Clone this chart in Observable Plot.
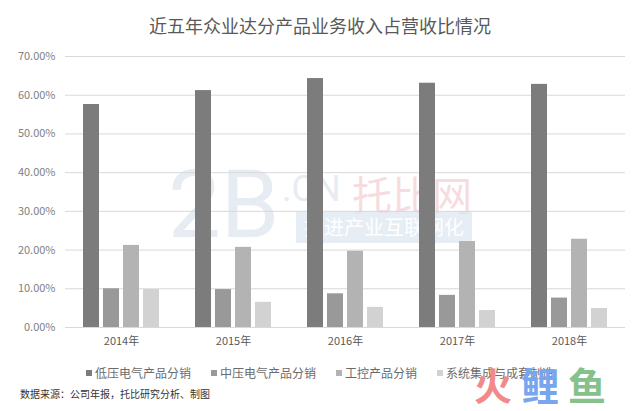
<!DOCTYPE html>
<html>
<head>
<meta charset="utf-8">
<script src="https://cdn.jsdelivr.net/npm/d3@7"></script>
<script src="https://cdn.jsdelivr.net/npm/@observablehq/plot@0.6"></script>
<style>
  html, body { margin:0; padding:0; background:#fff; }
  body { width:640px; height:411px; position:relative; overflow:hidden; font-family:"Noto Sans CJK SC","Noto Sans",sans-serif; }
  #title { position:absolute; left:0; top:0; width:640px; height:50px; line-height:50px; text-align:center; font-size:18px; color:#595959; }
  #chart { position:absolute; left:0; top:45px; }
  #legend { position:absolute; left:0; top:364px; width:640px; height:18px; display:flex; justify-content:center; gap:0; font-size:12px; color:#6b6b6b; line-height:18px; }
  #legend .item { display:flex; align-items:center; margin:0 10px; }
  #legend .sw { width:6px; height:6px; margin-right:3px; display:inline-block; }
  #source { position:absolute; left:20px; top:386px; font-size:10px; color:#333; line-height:16px; }
  .wm { position:absolute; white-space:nowrap; pointer-events:none; }
</style>
</head>
<body>
<div id="title">近五年众业达分产品业务收入占营收比情况</div>
<div class="wm" style="left:168px;top:150px;font-size:94px;font-family:Roboto,sans-serif;color:#dfe6ef;opacity:0.75;">2B</div>
<div class="wm" style="left:282px;top:168px;font-size:36px;font-family:Roboto,sans-serif;color:#dfe6ef;opacity:0.75;">.CN</div>
<div class="wm" style="left:352px;top:164px;font-size:40px;color:#f6d4d8;opacity:0.8;">托比网</div>
<div class="wm" style="left:296px;top:211px;width:176px;height:32px;background:#dce6f2;opacity:0.7;color:#fff;font-size:20px;line-height:32px;text-align:center;">推进产业互联网化</div>
<div id="chart"></div>
<div id="legend"></div>
<div id="source">数据来源：公司年报，托比研究分析、制图</div>
<div class="wm" style="left:474px;top:364px;font-size:38px;font-weight:bold;line-height:40px;"><span style="color:#f38a8a;margin-right:9px;">火</span><span style="color:#78a5ee;margin-right:9px;">鲤</span><span style="color:#86c08a;">鱼</span></div>
<script>
const years = ["2014年", "2015年", "2016年", "2017年", "2018年"];
const series = ["低压电气产品分销", "中压电气产品分销", "工控产品分销", "系统集成与成套制造"];
const lowVoltage = [57.6, 61.2, 64.3, 63.1, 62.8];
const midVoltage = [10.0, 9.8, 8.7, 8.3, 7.6];
const control = [21.2, 20.7, 19.7, 22.2, 22.8];
const systemInt = [9.8, 6.5, 5.2, 4.4, 4.9];
const yTicks = [0, 10, 20, 30, 40, 50, 60, 70];
const colors = ["#7c7c7c", "#999999", "#b3b3b3", "#d2d2d2"];

const values = [lowVoltage, midVoltage, control, systemInt];
const data = [];
years.forEach((y, i) => series.forEach((s, j) => data.push({year: y, series: s, value: values[j][i]})));

const chart = Plot.plot({
  width: 640,
  height: 312,
  marginTop: 11,
  marginBottom: 30,
  marginLeft: 63,
  marginRight: 14,
  style: {fontFamily: '"Noto Sans CJK SC", "Noto Sans", sans-serif', fontSize: "11px", background: "transparent"},
  fx: {domain: years, padding: 0, label: null},
  x: {domain: series, paddingInner: 0.2, paddingOuter: 0.87, axis: null},
  y: {domain: [0, 70], label: null},
  color: {domain: series, range: colors},
  marks: [
    Plot.gridY(yTicks, {stroke: "#d9d9d9", strokeOpacity: 1}),
    Plot.axisY(yTicks, {tickSize: 0, tickPadding: 10, tickFormat: d => d.toFixed(2) + "%", color: "#7f7f7f", label: null, fontSize: 11}),
    Plot.axisFx({anchor: "bottom", tickSize: 0, tickPadding: 10, label: null, color: "#595959", fontSize: 11}),
    Plot.barY(data, {fx: "year", x: "series", y: "value", fill: "series"})
  ]
});
document.getElementById("chart").appendChild(chart);

const legend = document.getElementById("legend");
series.forEach((s, i) => {
  const item = document.createElement("div");
  item.className = "item";
  const sw = document.createElement("span");
  sw.className = "sw";
  sw.style.background = colors[i];
  item.appendChild(sw);
  item.appendChild(document.createTextNode(s));
  legend.appendChild(item);
});
</script>
</body>
</html>
